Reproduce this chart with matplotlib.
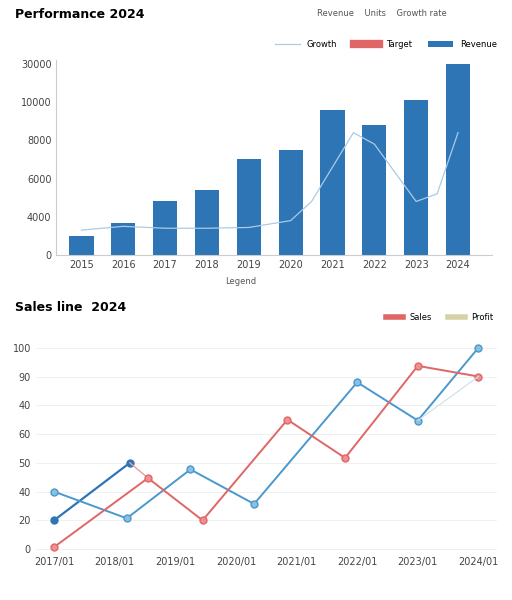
import matplotlib
matplotlib.use("Agg")
import matplotlib.pyplot as plt

bar_cats = ["2015","2016","2017","2018","2019","2020","2021","2022","2023","2024"]
bar_vals = [0.5,0.85,1.4,1.7,2.5,2.75,3.8,3.4,4.05,5.0]
line_x = [1,2,3,4,5,6,6.5,7,7.5,8,9,9.5,10]
line_vals = [0.65,0.75,0.7,0.7,0.72,0.9,1.4,2.3,3.2,2.9,1.4,1.6,3.2]
yticks_top = [0,1,2,3,4,5]
ylabels_top = ["0","4000","6000","8000","10000","30000"]

blue_x = [0,1.25]; blue_y = [1,3]
lblue_x = [0,1.2,2.25,3.3,5.0,6.0,7]; lblue_y = [2,1.07,2.77,1.57,5.8,4.47,7]
red_x = [0,1.55,2.45,3.85,4.8,6.0,7]; red_y = [0.07,2.47,1.0,4.5,3.17,6.37,6.0]
bot_labels = ["2017/01","2018/01","2019/01","2020/01","2021/01","2022/01","2023/01","2024/01"]

fig = plt.figure(figsize=(5.12,6.0), dpi=100)
ax1 = fig.add_axes([0.11,0.575,0.85,0.325])
ax2 = fig.add_axes([0.07,0.08,0.9,0.35])
for ax in (ax1, ax2):
    for s in ax.spines.values(): s.set_visible(False)
    ax.tick_params(length=0, labelsize=7, colors="#444")

xs = list(range(1,11))
ax1.bar(xs, bar_vals, width=0.58, color="#2e75b6", label="Revenue")
ax1.plot(line_x, line_vals, color="#a9cbe6", lw=0.9, label="Growth")
ax1.plot([], [], color="#e06666", lw=6, label="Target")
ax1.set_xticks(xs); ax1.set_xticklabels(bar_cats)
ax1.set_yticks(yticks_top); ax1.set_yticklabels(ylabels_top)
ax1.set_xlim(0.4,10.8); ax1.set_ylim(0,5.1)
ax1.spines["left"].set_visible(True); ax1.spines["left"].set_color("#ccc")
ax1.spines["bottom"].set_visible(True); ax1.spines["bottom"].set_color("#ccc")
ax1.legend(loc="lower right", bbox_to_anchor=(1.03,1.02), ncol=3, fontsize=6, frameon=False, handlelength=3)
fig.text(0.03,0.975,"Performance 2024", fontsize=9, fontweight="bold", va="center")
fig.text(0.62,0.978,"Revenue    Units    Growth rate", fontsize=6, color="#555", va="center")
fig.text(0.47,0.527,"Legend", fontsize=6, color="#555", ha="center")

ax2.plot(blue_x, blue_y, color="#2e75b6", lw=1.6, marker="o", ms=5)
ax2.plot([1.25,1.55],[3,2.47], color="#e8a0a0", lw=1)
ax2.plot(lblue_x, lblue_y, color="#4a98cc", lw=1.4, marker="o", ms=5, markerfacecolor="#8cc0e0")
ax2.plot(red_x, red_y, color="#e06666", lw=1.4, marker="o", ms=5, markerfacecolor="#f09090")
ax2.plot([6,7],[4.47,6.0], color="#c9e0ef", lw=0.8)
ax2.set_xticks(range(8)); ax2.set_xticklabels(bot_labels)
ax2.set_yticks(range(8)); ax2.set_yticklabels(["0","20","40","50","60","40","90","100"])
ax2.set_xlim(-0.3,7.3); ax2.set_ylim(-0.1,7.2)
ax2.grid(axis="y", color="#eee", lw=0.6)
fig.text(0.03,0.487,"Sales line  2024", fontsize=9, fontweight="bold", va="center")
ax2.plot([], [], color="#e06666", lw=4, label="Sales")
ax2.plot([], [], color="#d6d2a8", lw=4, label="Profit")
ax2.legend(loc="lower right", bbox_to_anchor=(1.01,1.06), ncol=2, fontsize=6, frameon=False)

fig.savefig("out.png", dpi=100, facecolor="white")
